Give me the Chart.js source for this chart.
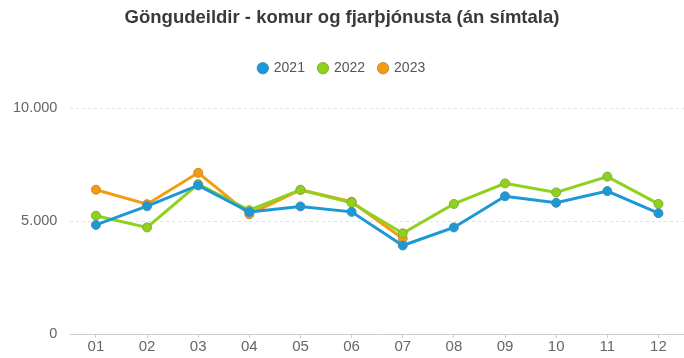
<!DOCTYPE html>
<html>
<head>
<meta charset="utf-8">
<script src="https://cdn.jsdelivr.net/npm/chart.js@4"></script>
<style>
  html, body { margin: 0; padding: 0; background: #fff; }
  #wrap { width: 684px; height: 358px; }
</style>
</head>
<body>
<div id="wrap"><canvas id="myChart"></canvas></div>
<script>
var months = ["01", "02", "03", "04", "05", "06", "07", "08", "09", "10", "11", "12"];
var y2021 = [4830, 5660, 6580, 5400, 5650, 5410, 3920, 4720, 6100, 5810, 6330, 5350];
var y2022 = [5240, 4720, 6640, 5480, 6390, 5810, 4460, 5760, 6670, 6270, 6970, 5760];
var y2023 = [6390, 5750, 7140, 5300, 6380, 5860, 4230];
var yTicks = [0, 5000, 10000];

Chart.defaults.font.family = "'Liberation Sans', Arial, sans-serif";

function fmt(v) {
  return v.toString().replace(/\B(?=(\d{3})+(?!\d))/g, ".");
}

function line(label, data, color, edge) {
  return {
    label: label,
    data: data,
    borderColor: color,
    backgroundColor: color,
    borderWidth: 3,
    pointRadius: 4.5,
    pointHoverRadius: 6,
    pointBackgroundColor: color,
    pointBorderColor: edge,
    pointBorderWidth: 1,
    tension: 0,
    fill: false
  };
}

// extra room between the legend and the plot
var legendGap = {
  id: 'legendGap',
  beforeInit: function (chart) {
    var fit = chart.legend.fit;
    chart.legend.fit = function () {
      fit.bind(chart.legend)();
      this.height += 23;
    };
  }
};

var ctx = document.getElementById('myChart').getContext('2d');
var myChart = new Chart(ctx, {
  type: 'line',
  data: {
    labels: months,
    datasets: [
      line('2021', y2021, '#1b98d5', '#4a8db0'),
      line('2022', y2022, '#8fd11c', '#7fae3a'),
      line('2023', y2023, '#f39c12', '#c98a36')
    ]
  },
  plugins: [legendGap],
  options: {
    responsive: true,
    maintainAspectRatio: false,
    animation: false,
    layout: { autoPadding: false, padding: { left: 0, right: 0, top: 0, bottom: 2 } },
    plugins: {
      title: {
        display: true,
        text: 'Göngudeildir - komur og fjarþjónusta (án símtala)',
        color: '#3a3a3a',
        font: { size: 18.5, weight: 'bold' },
        padding: { top: 7, bottom: 18 }
      },
      legend: {
        position: 'top',
        labels: {
          usePointStyle: true,
          pointStyle: 'circle',
          boxWidth: 8,
          boxHeight: 8,
          color: '#555',
          font: { size: 14 },
          padding: 14
        }
      },
      tooltip: { enabled: true }
    },
    scales: {
      x: {
        offset: true,
        grid: { display: true, drawOnChartArea: false, drawTicks: true, tickLength: 4, color: '#cccccc' },
        border: { color: '#cccccc' },
        ticks: { color: '#666', font: { size: 15 }, padding: 0 }
      },
      y: {
        min: 0,
        max: 10000,
        afterBuildTicks: function (axis) {
          axis.ticks = yTicks.map(function (v) { return { value: v }; });
        },
        grid: { color: '#e2e2e2', drawTicks: false, tickLength: 0 },
        border: { display: false, dash: [3, 3] },
        ticks: {
          color: '#666',
          font: { size: 14.5 },
          padding: 13,
          callback: function (v) { return fmt(v); }
        }
      }
    }
  }
});
</script>
</body>
</html>
